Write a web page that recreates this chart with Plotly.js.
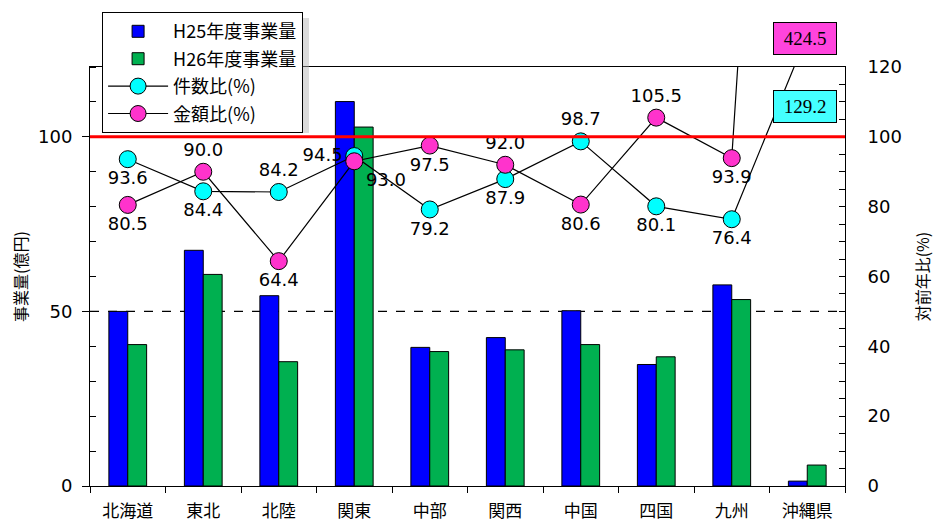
<!DOCTYPE html>
<html>
<head>
<meta charset="utf-8">
<script src="https://cdn.plot.ly/plotly-3.0.1.min.js"></script>
<style>html,body{margin:0;padding:0;background:#fff;}#chart{width:941px;height:529px;}</style>
</head>
<body>
<div id="chart"></div>
<script>
const regions = ['北海道','東北','北陸','関東','中部','関西','中国','四国','九州','沖縄県'];
const volumeH25 = [50.0, 67.5, 54.5, 110.1, 39.7, 42.5, 50.2, 34.8, 57.6, 1.4];
const volumeH26 = [40.5, 60.6, 35.6, 102.8, 38.5, 39.0, 40.5, 37.0, 53.4, 6.0];
const countRatio = [93.6, 84.4, 84.2, 94.5, 79.2, 87.9, 98.7, 80.1, 76.4, 129.2];
const amountRatio = [80.5, 90.0, 64.4, 93.0, 97.5, 92.0, 80.6, 105.5, 93.9, 424.5];
const countPos = ['bottom center','bottom center','top center','middle left','bottom center','bottom center','top center','bottom center','bottom center','top center'];
const amountPos = ['bottom center','top center','bottom center','bottom right','bottom center','top center','bottom center','top center','bottom center','top center'];

const numFont = {family:'DejaVu Sans, Verdana, sans-serif', size:18, color:'#000'};
const jpFont = 'Noto Sans CJK JP, sans-serif';

function fmt(arr){ return arr.map((v,i)=> i===arr.length-1 ? '' : v.toFixed(1)); }

const traces = [
  {type:'bar', name:'H25年度事業量', x:regions, y:volumeH25, legendgroup:'a',
   marker:{color:'#0000FF', line:{color:'#000', width:1}}, yaxis:'y'},
  {type:'bar', name:'H26年度事業量', x:regions, y:volumeH26, legendgroup:'b',
   marker:{color:'#00B050', line:{color:'#000', width:1}}, yaxis:'y'},
  {type:'scatter', mode:'lines+markers+text', name:'件数比(%)', x:regions, y:countRatio, yaxis:'y2', legendgroup:'c',
   line:{color:'#000', width:1.2}, marker:{color:'#00FFFF', size:17, line:{color:'#000', width:1}},
   text:fmt(countRatio), textposition:countPos, textfont:numFont, cliponaxis:true},
  {type:'scatter', mode:'lines+markers+text', name:'金額比(%)', x:regions, y:amountRatio, yaxis:'y2', legendgroup:'d',
   line:{color:'#000', width:1.2}, marker:{color:'#FF33CC', size:17, line:{color:'#000', width:1}},
   text:fmt(amountRatio), textposition:amountPos, textfont:numFont, cliponaxis:true}
];

const layout = {
  width:941, height:529,
  margin:{l:90, r:96, t:67, b:43},
  paper_bgcolor:'#fff', plot_bgcolor:'#fff',
  barmode:'group', bargap:0.5, bargroupgap:0,
  showlegend:true,
  legend:{x:0.016, y:1.131, xanchor:'left', yanchor:'top', bgcolor:'#fff',
    bordercolor:'#000', borderwidth:1, font:{family:jpFont, size:18, color:'#000'},
    traceorder:'grouped', tracegroupgap:1, itemwidth:60},
  xaxis:{type:'category', range:[-0.5, 9.5], tickson:'boundaries', ticks:'outside', ticklen:6, tickcolor:'#000',
    showline:true, linecolor:'#000', linewidth:1, mirror:true, showgrid:false, automargin:false,
    tickfont:{family:jpFont, size:17, color:'#000'}, ticklabelstandoff:10},
  yaxis:{range:[0,120], tickmode:'linear', tick0:0, dtick:50, ticks:'outside', ticklen:7, tickcolor:'#000',
    showline:true, linecolor:'#000', linewidth:1, showgrid:false, zeroline:false, automargin:false,
    minor:{dtick:10, ticks:'inside', ticklen:6, tickcolor:'#000'},
    tickfont:numFont, ticklabelstandoff:6,
    title:{text:'事業量(億円)', font:{family:jpFont, size:16, color:'#000'}, standoff:6}},
  yaxis2:{range:[0,120], overlaying:'y', side:'right', tickmode:'linear', tick0:0, dtick:20, ticks:'inside', ticklen:6, tickcolor:'#000',
    showline:true, linecolor:'#000', linewidth:1, showgrid:false, zeroline:false, automargin:false,
    minor:{dtick:5, ticks:'inside', ticklen:6, tickcolor:'#000'},
    tickfont:numFont, ticklabelstandoff:18,
    title:{text:'対前年比(%)', font:{family:jpFont, size:16, color:'#000'}, standoff:16}},
  shapes:[
    {type:'line', xref:'paper', x0:0, x1:1, yref:'y', y0:50, y1:50, layer:'below',
     line:{color:'#000', width:1.2, dash:'dash'}},
    {type:'line', xref:'paper', x0:0, x1:1, yref:'y', y0:100, y1:100, layer:'above',
     line:{color:'#FF0000', width:3}},
    {type:'rect', xref:'paper', yref:'paper', x0:(108-90)/755, x1:(309-90)/755,
     y0:(486-133)/419, y1:(486-18)/419, layer:'above', fillcolor:'#b0b0b0', opacity:0.45, line:{width:0}}
  ],
  annotations:[
    {xref:'paper', yref:'paper', x:(805-90)/755, y:(486-38)/419, xanchor:'center', yanchor:'middle',
     text:'424.5', showarrow:false,
     font:{family:'Liberation Serif, serif', size:19, color:'#000'}, bgcolor:'#FF44DD',
     bordercolor:'#000', borderwidth:1, borderpad:5, width:52},
    {xref:'paper', yref:'paper', x:(805-90)/755, y:(486-106)/419, xanchor:'center', yanchor:'middle',
     text:'129.2', showarrow:false,
     font:{family:'Liberation Serif, serif', size:19, color:'#000'}, bgcolor:'#44FFFF',
     bordercolor:'#000', borderwidth:1, borderpad:5, width:52}
  ]
};

Plotly.newPlot('chart', traces, layout, {displayModeBar:false, staticPlot:true});
</script>
</body>
</html>
